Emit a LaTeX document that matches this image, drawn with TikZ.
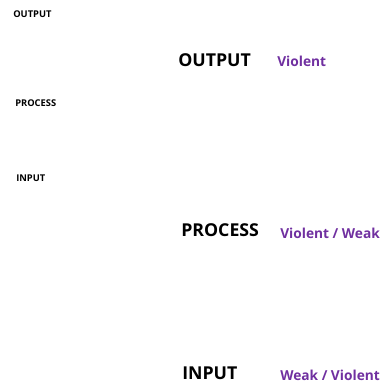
\documentclass[tikz,border=0pt]{standalone}
\usepackage{fontspec}
\setmainfont{Open Sans}
\usepackage{tikz}
\usetikzlibrary{positioning}
\definecolor{levelpurple}{RGB}{112,48,160}

\begin{document}
\begin{tikzpicture}[
  x=0.75pt, y=-0.75pt,
  side/.style={anchor=west,inner sep=0pt,font=\fontsize{7}{8}\selectfont\bfseries},
  stage/.style={anchor=west,inner sep=0pt,font=\fontsize{13.3}{15}\selectfont\bfseries},
  kind/.style={anchor=west,inner sep=0pt,font=\fontsize{10.3}{12}\selectfont\bfseries,text=levelpurple},
]
  \useasboundingbox (0,0) rectangle (383,386);
  % left column
  \node[side] (sout) at (13,14)  {OUTPUT};
  \node[side] (sproc) at (15,103) {PROCESS};
  \node[side] (sin) at (16,178)  {INPUT};
  % stages
  \node[stage] (out) at (178,60)  {OUTPUT};
  \node[stage] (proc) at (181,230) {PROCESS};
  \node[stage] (in) at (182,373)  {INPUT};
  \node[kind] (kout) at (277,61)  {Violent};
  \node[kind] (kproc) at (280,233) {Violent / Weak};
  \node[kind] (kin) at (280,375)  {Weak / Violent};
\end{tikzpicture}
\end{document}
